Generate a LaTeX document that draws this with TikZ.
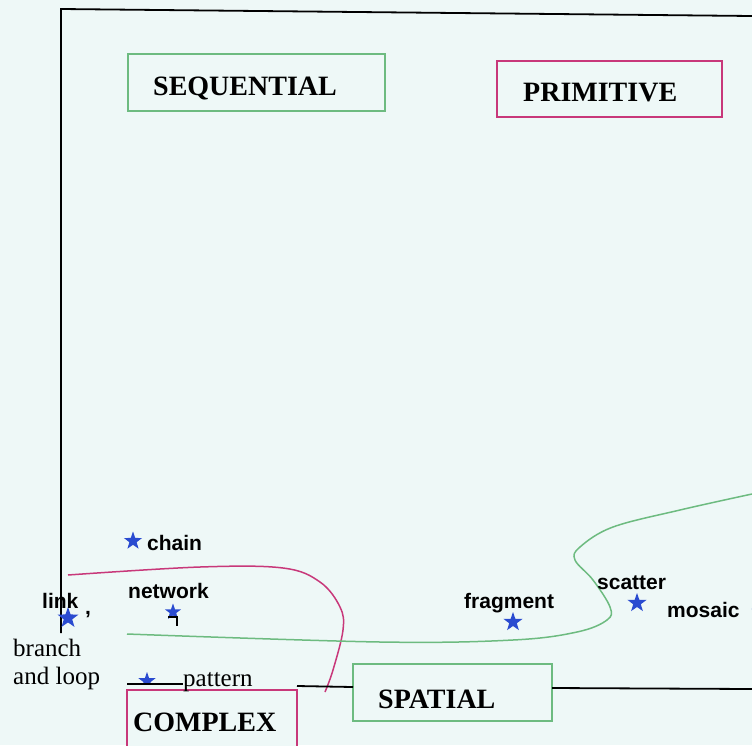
\documentclass[tikz,border=0pt]{standalone}
\usepackage{fontspec}
\setmainfont{Liberation Serif}
\setsansfont{Liberation Sans}
\usetikzlibrary{shapes.geometric}
\definecolor{bg}{HTML}{EEF8F7}
\definecolor{grn}{HTML}{6DBB80}
\definecolor{mag}{HTML}{C8387A}
\definecolor{stb}{HTML}{2A4BD0}
\begin{document}
\begin{tikzpicture}[x=1pt,y=-1pt,
  boxframe/.style={draw, line width=1.3pt, fill=bg, inner sep=0},
  boxtxt/.style={font=\bfseries\fontsize{28}{30}\selectfont, inner sep=0, anchor=base west},
  lbl/.style={font=\sffamily\bfseries\fontsize{21}{23}\selectfont, inner sep=0, anchor=base west},
  slbl/.style={font=\fontsize{25}{29}\selectfont, inner sep=0, anchor=base west},
  starm/.style={star, star points=5, star point ratio=2.5, fill=stb, draw=none, inner sep=0, minimum size=#1},
  starm/.default=20pt,
  axis/.style={line width=1.8pt, black},
  curve/.style={line width=1.5pt}
]
\clip (0,0) rectangle (752,745);
\fill[bg] (0,0) rectangle (752,745);

% frame
\coordinate (tl) at (61,9);
\coordinate (tr) at (752,16);
\coordinate (vb) at (61,633);
\draw[axis] (tr) -- (tl) -- (vb);

% boundary curves
\draw[mag, curve] plot[smooth, tension=0.6] coordinates {(68,575) (200,567) (283,568) (320,582) (340,607) (343,630) (333,670) (325,692)};
\draw[grn, curve] plot[smooth, tension=0.6] coordinates {(127,634) (380,642) (513,640) (577,632) (607,620) (610,607) (593,580) (575,560) (580,547) (613,527) (680,510) (752,494)};

% boxes
\node[boxframe, draw=grn, minimum width=257pt, minimum height=57pt] (seq) at (256.5,82.5) {};
\node[boxtxt] (seqt) at (153,95) {SEQUENTIAL};
\node[boxframe, draw=mag, minimum width=225pt, minimum height=56pt] (prim) at (609.5,89) {};
\node[boxtxt] (primt) at (523,101) {PRIMITIVE};
\node[boxframe, draw=mag, minimum width=170pt, minimum height=70pt] (comp) at (212,725) {};
\node[boxtxt] (compt) at (133,731) {COMPLEX};
\node[boxframe, draw=grn, minimum width=199pt, minimum height=57pt] (spat) at (452.5,692.5) {};
\node[boxtxt] (spatt) at (378,708) {SPATIAL};

% stars
\node[starm=19pt] (schain) at (133,541) {};
\node[starm=22pt] (slink) at (68,618) {};
\node[starm=17pt] (snet) at (173,612) {};
\node[starm] (sfrag) at (513,622) {};
\node[starm] (sscat) at (637,603) {};
\node[starm] (smos) at (761,612) {};
\begin{scope}
  \clip (120,660) rectangle (180,684);
  \node[starm=18pt] (spat2) at (147,681) {};
\end{scope}
\draw[line width=1.8pt] (168,617) -- (177,617) -- (177,626);

% labels
\node[lbl] (chain) at (147,550) {chain};
\node[lbl] (link) at (42,608) {link};
\node[lbl] (comma) at (85,614) {,};
\node[lbl] (network) at (128,598) {network};
\node[lbl] (fragment) at (464,608) {fragment};
\node[lbl] (scatter) at (597,589) {scatter};
\node[lbl] (mosaic) at (667,617) {mosaic};
\node[slbl] (branch) at (13,656) {branch};
\node[slbl] (loop) at (13,684) {and loop};
\node[slbl] (pattern) at (183,686) {pattern};

% base line
\coordinate (p0) at (127,684);
\coordinate (p1) at (183,684);
\coordinate (c0) at (297,686);
\coordinate (s0) at (353,687);
\coordinate (s1) at (552,688);
\coordinate (r0) at (752,689);
\draw[axis] (p0) -- (p1);
\draw[axis] (c0) -- (s0);
\draw[axis] (s1) -- (r0);
\end{tikzpicture}
\end{document}
